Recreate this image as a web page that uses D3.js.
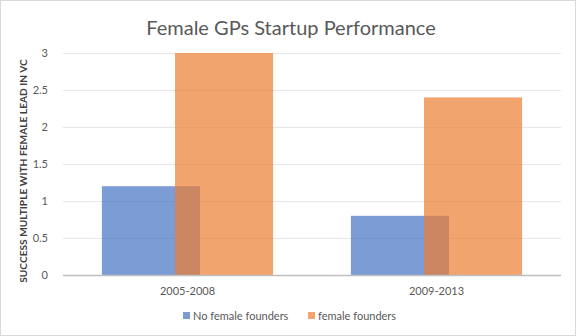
<!DOCTYPE html>
<html><head><meta charset="utf-8">
<script src="https://cdn.jsdelivr.net/npm/d3@7"></script>
<style>body{margin:0;background:#fff}svg{display:block}</style>
</head><body>
<script>
const categories = ["2005-2008", "2009-2013"];
const seriesNames = ["No female founders", "female founders"];
const noFemale = [1.2, 0.8];
const female = [3.0, 2.4];
const yTicks = [0, 0.5, 1, 1.5, 2, 2.5, 3];
const colors = ["#4472C4", "#ED7D31"];

const W = 576, H = 336;
const svg = d3.select("body").append("svg").attr("width", W).attr("height", H);
svg.append("rect").attr("x", 0.5).attr("y", 0.5).attr("width", W - 1).attr("height", H - 1)
  .attr("fill", "#fff").attr("stroke", "#D9D9D9");

const m = {left: 63, right: 15, top: 53, bottom: 61};
const x = d3.scaleBand().domain(categories).range([m.left, W - m.right]).paddingInner(0).paddingOuter(0);
const y = d3.scaleLinear().domain([0, 3]).range([H - m.bottom, m.top]);

// gridlines
svg.append("g").selectAll("line").data(yTicks.filter(d => d > 0)).join("line")
  .attr("x1", m.left).attr("x2", W - m.right)
  .attr("y1", d => Math.round(y(d)) + 0.5).attr("y2", d => Math.round(y(d)) + 0.5)
  .attr("stroke", "#E6E6E6").attr("stroke-width", 1);

// bars
const bw = x.bandwidth() * 0.394;
const shift = bw * 0.745;
const groupW = bw + shift;
const series = [noFemale, female];
series.forEach((vals, si) => {
  svg.append("g").selectAll("rect").data(categories).join("rect")
    .attr("x", (c) => x(c) + (x.bandwidth() - groupW) / 2 + si * shift)
    .attr("y", (c, i) => y(vals[i]))
    .attr("width", bw)
    .attr("height", (c, i) => y(0) - y(vals[i]))
    .attr("fill", colors[si]).attr("fill-opacity", 0.7);
});

// x axis line
svg.append("line").attr("x1", m.left).attr("x2", W - m.right)
  .attr("y1", y(0) + 0.5).attr("y2", y(0) + 0.5)
  .attr("stroke", "#BFBFBF").attr("stroke-width", 1.5);

const font = "Lato, 'Open Sans', sans-serif";
// y tick labels
const yAxis = d3.axisLeft(y).tickValues(yTicks).tickSize(0).tickPadding(0).tickFormat(d3.format("~g"));
const ga = svg.append("g").attr("transform", `translate(48,0)`).call(yAxis);
ga.select(".domain").remove();
ga.selectAll("text").attr("fill", "#595959").style("font-family", font).style("font-size", "11px");

// x labels
const xAxis = d3.axisBottom(x).tickSize(0).tickPadding(0);
const gx = svg.append("g").attr("transform", `translate(0,${y(0) + 12})`).call(xAxis);
gx.select(".domain").remove();
gx.selectAll("text").attr("fill", "#595959").style("font-family", font).style("font-size", "11px");

// title
svg.append("text").attr("x", 291).attr("y", 35).attr("text-anchor", "middle")
  .attr("fill", "#595959").style("font-family", font).style("font-size", "20px")
  .style("font-weight", 400).text("Female GPs Startup Performance");

// y label
svg.append("text").attr("transform", `translate(27,${(y(0) + y(3)) / 2 + 7}) rotate(-90)`)
  .attr("text-anchor", "middle").attr("fill", "#404040")
  .style("font-family", font).style("font-size", "10.2px").style("font-weight", "bold")
  .text("SUCCESS MULTIPLE WITH FEMALE LEAD IN VC");

// legend
const legX = [183, 308];
const lg = svg.append("g");
seriesNames.forEach((n, i) => {
  lg.append("rect").attr("x", legX[i]).attr("y", 312).attr("width", 7).attr("height", 7)
    .attr("fill", colors[i]).attr("fill-opacity", 0.7);
  lg.append("text").attr("x", legX[i] + 10).attr("y", 319.5)
    .attr("fill", "#595959").style("font-family", font).style("font-size", "11px").text(n);
});
</script>
</body></html>
